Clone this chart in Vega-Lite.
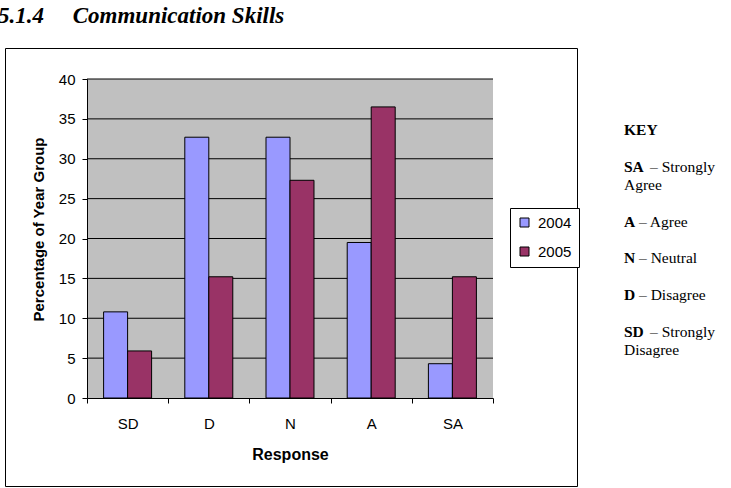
{
  "$schema": "https://vega.github.io/schema/vega-lite/v6.json",
  "autosize": {"type": "none"},
  "width": 572,
  "height": 438,
  "padding": {"left": 5, "top": 48, "right": 154, "bottom": 2},
  "background": "white",
  "title": {
    "text": "5.1.4\u00a0\u00a0\u00a0\u00a0\u00a0Communication Skills",
    "anchor": "start",
    "frame": "group",
    "font": "Liberation Serif",
    "fontSize": 23,
    "fontWeight": "bold",
    "fontStyle": "italic",
    "color": "black",
    "baseline": "alphabetic",
    "offset": 24,
    "dx": -7,
    "dy": 22
  },
  "config": {
    "view": {"stroke": "black", "strokeWidth": 1, "fill": "white"},
    "axis": {"labelFont": "Liberation Sans", "titleFont": "Liberation Sans"},
    "legend": {"labelFont": "Liberation Sans"}
  },
  "resolve": {"scale": {"x": "independent", "y": "independent"}},
  "layer": [
    {
      "data": {"values": [{}]},
      "mark": {"type": "rect", "fill": "#C0C0C0"},
      "encoding": {
        "x": {"datum": 0, "type": "quantitative", "scale": {"domain": [0, 1], "range": [82, 488]}, "axis": null},
        "x2": {"datum": 1},
        "y": {"datum": 0, "type": "quantitative", "scale": {"domain": [0, 40], "range": [350, 31], "nice": false}, "axis": null},
        "y2": {"datum": 40}
      }
    },
    {
      "data": {"values": [{"g": 5}, {"g": 10}, {"g": 15}, {"g": 20}, {"g": 25}, {"g": 30}, {"g": 35}, {"g": 40}]},
      "mark": {"type": "rule", "color": "black", "strokeWidth": 1},
      "encoding": {
        "x": {"datum": 0, "type": "quantitative", "scale": {"domain": [0, 1], "range": [82, 488]}, "axis": null},
        "x2": {"datum": 1},
        "y": {"field": "g", "type": "quantitative", "scale": {"domain": [0, 40], "range": [350, 31], "nice": false}, "axis": null}
      }
    },
    {
      "data": {"values": [
        {"Response": "SD", "Year": "2004", "Value": 10.8},
        {"Response": "SD", "Year": "2005", "Value": 5.9},
        {"Response": "D", "Year": "2004", "Value": 32.7},
        {"Response": "D", "Year": "2005", "Value": 15.2},
        {"Response": "N", "Year": "2004", "Value": 32.7},
        {"Response": "N", "Year": "2005", "Value": 27.3},
        {"Response": "A", "Year": "2004", "Value": 19.5},
        {"Response": "A", "Year": "2005", "Value": 36.5},
        {"Response": "SA", "Year": "2004", "Value": 4.3},
        {"Response": "SA", "Year": "2005", "Value": 15.2}
      ]},
      "mark": {"type": "bar", "stroke": "black", "strokeWidth": 1},
      "encoding": {
        "x": {
          "field": "Response", "type": "nominal", "sort": ["SD", "D", "N", "A", "SA"],
          "scale": {"domain": ["SD", "D", "N", "A", "SA"], "range": [82, 488], "paddingInner": 0, "paddingOuter": 0},
          "axis": {
            "title": "Response", "offset": -88, "tickBand": "extent", "tickSize": 5, "tickColor": "black", "tickWidth": 1,
            "domainColor": "black", "domainWidth": 1, "labelAngle": 0, "labelPadding": 13, "labelFontSize": 15, "labelColor": "black",
            "titleFontSize": 16, "titleFontWeight": "bold", "titleColor": "black", "titlePadding": 15, "grid": false, "zindex": 1
          }
        },
        "xOffset": {"field": "Year", "type": "nominal", "scale": {"paddingInner": 0, "paddingOuter": 0.692}},
        "y": {
          "field": "Value", "type": "quantitative",
          "scale": {"domain": [0, 40], "range": [350, 31], "nice": false},
          "axis": {
            "title": "Percentage of Year Group", "offset": -82, "values": [0, 5, 10, 15, 20, 25, 30, 35, 40],
            "tickSize": 5, "tickColor": "black", "tickWidth": 1, "domainColor": "black", "domainWidth": 1,
            "labelPadding": 7, "labelFontSize": 15, "labelColor": "black",
            "titleFontSize": 15, "titleFontWeight": "bold", "titleColor": "black", "titlePadding": 12, "titleY": 181,
            "grid": false, "zindex": 1
          }
        },
        "color": {
          "field": "Year", "type": "nominal",
          "scale": {"domain": ["2004", "2005"], "range": ["#9999FF", "#993366"]},
          "legend": {
            "title": null, "orient": "none", "legendX": 505, "legendY": 160,
            "strokeColor": "black", "fillColor": "white", "padding": 7, "rowPadding": 13,
            "symbolType": "square", "symbolSize": 81, "symbolStrokeColor": "black", "symbolStrokeWidth": 1, "symbolOpacity": 1,
            "labelFontSize": 15, "labelColor": "black", "labelOffset": 6
          }
        }
      }
    },
    {
      "data": {"values": [
        {"line": 0, "code": "KEY", "desc": ""},
        {"line": 2, "code": "SA", "desc": "– Strongly"},
        {"line": 3, "code": "", "desc": "Agree"},
        {"line": 5, "code": "A", "desc": "– Agree"},
        {"line": 7, "code": "N", "desc": "– Neutral"},
        {"line": 9, "code": "D", "desc": "– Disagree"},
        {"line": 11, "code": "SD", "desc": "– Strongly"},
        {"line": 12, "code": "", "desc": "Disagree"}
      ]},
      "layer": [
        {
          "mark": {"type": "text", "align": "left", "baseline": "alphabetic", "font": "Liberation Serif", "fontSize": 15.5, "fontWeight": "bold", "color": "black"},
          "encoding": {
            "x": {"datum": 0, "type": "quantitative", "scale": {"domain": [0, 1], "range": [619, 700]}, "axis": null},
            "y": {"field": "line", "type": "quantitative", "scale": {"domain": [0, 12], "range": [87.3, 307]}, "axis": null},
            "text": {"field": "code"}
          }
        },
        {
          "transform": [{"filter": "length(datum.code) == 2"}],
          "mark": {"type": "text", "align": "left", "baseline": "alphabetic", "font": "Liberation Serif", "fontSize": 15.5, "color": "black", "dx": 26},
          "encoding": {
            "x": {"datum": 0, "type": "quantitative", "scale": {"domain": [0, 1], "range": [619, 700]}, "axis": null},
            "y": {"field": "line", "type": "quantitative", "scale": {"domain": [0, 12], "range": [87.3, 307]}, "axis": null},
            "text": {"field": "desc"}
          }
        },
        {
          "transform": [{"filter": "length(datum.code) == 1"}],
          "mark": {"type": "text", "align": "left", "baseline": "alphabetic", "font": "Liberation Serif", "fontSize": 15.5, "color": "black", "dx": 15},
          "encoding": {
            "x": {"datum": 0, "type": "quantitative", "scale": {"domain": [0, 1], "range": [619, 700]}, "axis": null},
            "y": {"field": "line", "type": "quantitative", "scale": {"domain": [0, 12], "range": [87.3, 307]}, "axis": null},
            "text": {"field": "desc"}
          }
        },
        {
          "transform": [{"filter": "length(datum.code) == 0"}],
          "mark": {"type": "text", "align": "left", "baseline": "alphabetic", "font": "Liberation Serif", "fontSize": 15.5, "color": "black"},
          "encoding": {
            "x": {"datum": 0, "type": "quantitative", "scale": {"domain": [0, 1], "range": [619, 700]}, "axis": null},
            "y": {"field": "line", "type": "quantitative", "scale": {"domain": [0, 12], "range": [87.3, 307]}, "axis": null},
            "text": {"field": "desc"}
          }
        }
      ]
    }
  ]
}
